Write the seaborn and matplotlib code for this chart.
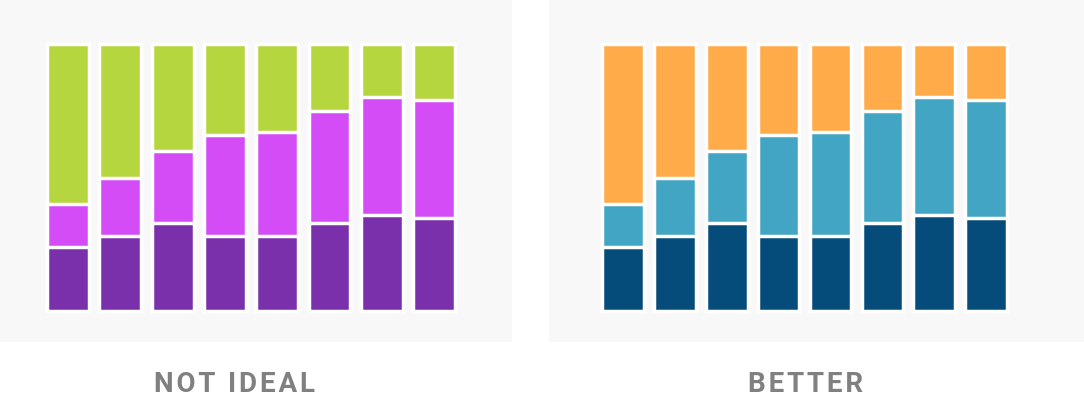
import numpy as np
import pandas as pd
import seaborn as sns
import matplotlib.pyplot as plt

# shares per bar (percent), bottom to top
categories = ["1", "2", "3", "4", "5", "6", "7", "8"]
bottom_share = [24, 28, 33, 28, 28, 33, 36, 35]
middle_share = [16, 22, 27, 38, 39, 42, 44, 44]
top_share = [60, 50, 40, 34, 33, 25, 20, 21]

titles = ["NOT IDEAL", "BETTER"]
colors_bad = ["#7a2fab", "#d34cf5", "#b5d63e"]
colors_good = ["#054c7a", "#43a5c4", "#ffab4a"]

df = pd.DataFrame({"cat": categories, "bottom": bottom_share,
                   "middle": middle_share, "top": top_share})
df["c1"] = df["bottom"]
df["c2"] = df["bottom"] + df["middle"]
df["c3"] = df["c2"] + df["top"]

sns.set_style("white")
fig = plt.figure(figsize=(10.84, 4.18), dpi=100)
fig.patch.set_facecolor("white")

W, H = 1084, 418
panels = [
    # axes rect in px (left, right), xlim, label centre x
    (0, 512, (-1.30, 8.49), 234, colors_bad, titles[0]),
    (549, 1084, (-1.43, 8.89), 806, colors_good, titles[1]),
]

for x0, x1, xlim, lab_x, cols, title in panels:
    ax = fig.add_axes([x0 / W, 76 / H, (x1 - x0) / W, 342 / H])
    ax.set_facecolor("#f8f8f8")
    for col, c in zip(["c3", "c2", "c1"], cols[::-1]):
        sns.barplot(data=df, x="cat", y=col, color=c, saturation=1,
                    width=0.8, edgecolor="white", linewidth=2.5, ax=ax)
    ax.set_xlim(*xlim)
    ax.set_ylim(-11.6, 116.5)
    ax.set_xticks([])
    ax.set_yticks([])
    ax.set_xlabel("")
    ax.set_ylabel("")
    for s in ax.spines.values():
        s.set_visible(False)

    # letter spacing with hair spaces
    spaced = "\u200a".join(title)
    fig.text(lab_x / W, 1 - 385 / H, spaced, ha="center", va="center",
             fontsize=20, color="#808080", fontweight="bold",
             family=["Roboto", "DejaVu Sans"])

fig.savefig("out.png", dpi=100, facecolor="white")
